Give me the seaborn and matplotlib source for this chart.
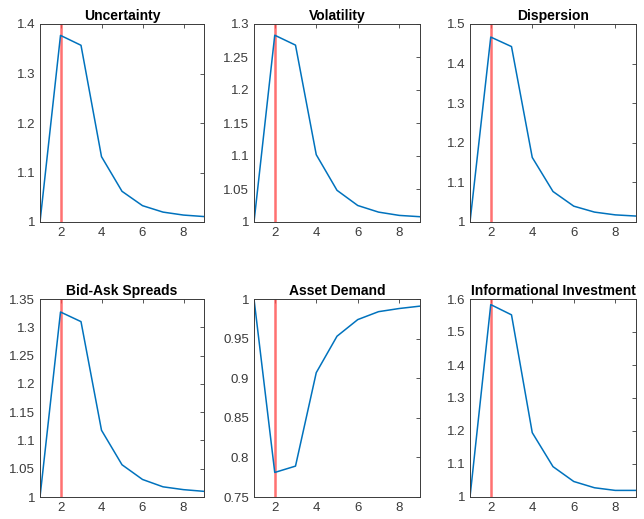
import numpy as np
import pandas as pd
import matplotlib
matplotlib.use('Agg')
import matplotlib.pyplot as plt
import seaborn as sns

# 数据
periods = [1, 2, 3, 4, 5, 6, 7, 8, 9]
uncertainty = [1.0, 1.377, 1.357, 1.132, 1.062, 1.033, 1.020, 1.014, 1.011]
volatility = [1.0, 1.283, 1.268, 1.102, 1.048, 1.025, 1.015, 1.010, 1.008]
dispersion = [1.0, 1.467, 1.443, 1.163, 1.077, 1.040, 1.025, 1.018, 1.015]
bid_ask = [1.0, 1.327, 1.310, 1.118, 1.057, 1.031, 1.018, 1.013, 1.010]
asset_demand = [1.0, 0.781, 0.789, 0.907, 0.953, 0.974, 0.984, 0.988, 0.991]
info_invest = [1.0, 1.583, 1.552, 1.195, 1.092, 1.047, 1.028, 1.020, 1.020]

titles = ['Uncertainty', 'Volatility', 'Dispersion',
          'Bid-Ask Spreads', 'Asset Demand', 'Informational Investment']
series = [uncertainty, volatility, dispersion, bid_ask, asset_demand, info_invest]
ylims = [(1, 1.4), (1, 1.3), (1, 1.5), (1, 1.35), (0.75, 1.0), (1, 1.6)]
yticks = [
    [1, 1.1, 1.2, 1.3, 1.4],
    [1, 1.05, 1.1, 1.15, 1.2, 1.25, 1.3],
    [1, 1.1, 1.2, 1.3, 1.4, 1.5],
    [1, 1.05, 1.1, 1.15, 1.2, 1.25, 1.3, 1.35],
    [0.75, 0.8, 0.85, 0.9, 0.95, 1],
    [1, 1.1, 1.2, 1.3, 1.4, 1.5, 1.6],
]
shock_period = 2

sns.set_style('white')
plt.rcParams['font.family'] = ['Liberation Sans', 'DejaVu Sans']

fig = plt.figure(figsize=(6.44, 5.19), dpi=100)
W, H = 644, 519
lefts = [40, 254, 470]
widths = [164, 166, 166]
tops = [24, 299]
height = 198

tick_color = '#3a3a3a'

for i, (title, vals) in enumerate(zip(titles, series)):
    r, c = divmod(i, 3)
    ax = fig.add_axes([lefts[c] / W, 1 - (tops[r] + height) / H,
                       widths[c] / W, height / H])
    df = pd.DataFrame({'t': periods, 'v': vals})
    ax.axvline(shock_period, color='#ff4d4d', lw=1.8, alpha=0.8, zorder=1)
    sns.lineplot(data=df, x='t', y='v', ax=ax, color='#0072BD', lw=1.1, zorder=2)
    ax.set_xlim(1, 9)
    ax.set_ylim(*ylims[i])
    ax.set_xticks([2, 4, 6, 8])
    ax.set_yticks(yticks[i])
    ax.set_yticklabels([f'{t:g}' for t in yticks[i]])
    ax.set_xlabel('')
    ax.set_ylabel('')
    ax.set_title(title, fontsize=10, fontweight='bold', pad=3, color='black')
    ax.tick_params(direction='in', top=True, right=True, length=3,
                   labelsize=9.5, colors=tick_color, width=0.6)
    for s in ax.spines.values():
        s.set_color(tick_color)
        s.set_linewidth(0.7)

fig.savefig('out.png', dpi=100)
